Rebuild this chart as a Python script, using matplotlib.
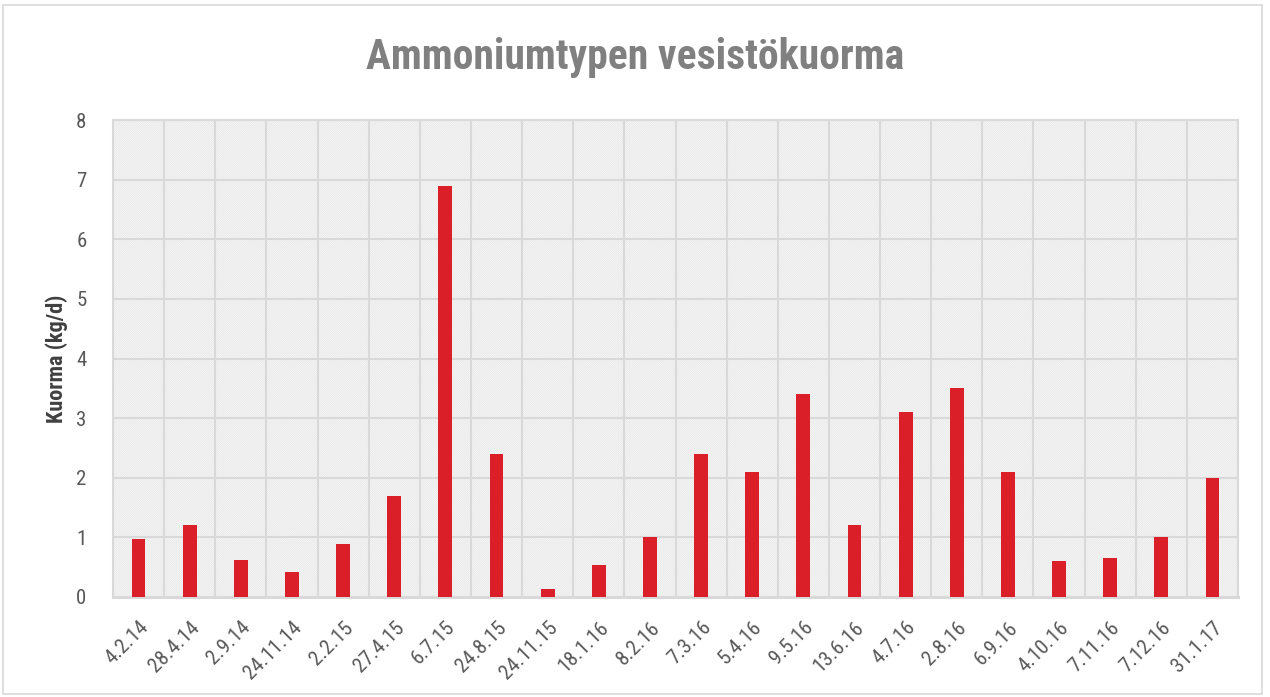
import matplotlib
matplotlib.use("Agg")
import matplotlib.pyplot as plt
from matplotlib.patches import Rectangle

dates = ["4.2.14", "28.4.14", "2.9.14", "24.11.14", "2.2.15", "27.4.15", "6.7.15",
         "24.8.15", "24.11.15", "18.1.16", "8.2.16", "7.3.16", "5.4.16", "9.5.16",
         "13.6.16", "4.7.16", "2.8.16", "6.9.16", "4.10.16", "7.11.16", "7.12.16", "31.1.17"]
kuorma = [0.98, 1.2, 0.62, 0.42, 0.89, 1.7, 6.9, 2.4, 0.13, 0.54, 1.0, 2.4, 2.1, 3.4,
          1.2, 3.1, 3.5, 2.1, 0.6, 0.65, 1.0, 2.0]
yticks = [0, 1, 2, 3, 4, 5, 6, 7, 8]

FONT = ["Roboto Condensed", "Liberation Sans", "DejaVu Sans"]
plt.rcParams["font.family"] = FONT
plt.rcParams["hatch.linewidth"] = 0.6
plt.rcParams["hatch.color"] = "#e6e6e6"

fig = plt.figure(figsize=(12.7, 6.97), dpi=100)
ax = fig.add_axes([113 / 1270, 1 - 597 / 697, 1125 / 1270, 477 / 697])

# outer chart border
fig.patches.append(Rectangle((3 / 1270, 3 / 697), 1259 / 1270, 689 / 697, transform=fig.transFigure,
                             fill=False, edgecolor="#d9d9d9", lw=1.2))

ax.add_patch(Rectangle((0, 0), 1, 1, transform=ax.transAxes, facecolor="white",
                       hatch="/" * 18, edgecolor="#e6e6e6", lw=0, zorder=0))

x = list(range(len(dates)))
ax.bar(x, kuorma, width=0.27, color="#DA1F28", zorder=3)

ax.set_xlim(-0.5, len(dates) - 0.5)
ax.set_ylim(0, 8)
ax.set_yticks(yticks)
ax.set_yticklabels([str(v) for v in yticks], fontsize=15, color="#595959")
ax.set_xticks(x)
ax.set_xticklabels(dates, rotation=45, ha="right", rotation_mode="anchor", fontsize=15, color="#595959")
ax.set_xticks([i + 0.5 for i in range(-1, len(dates))], minor=True)
ax.tick_params(axis="both", which="both", length=0)
ax.tick_params(axis="x", pad=15)
ax.tick_params(axis="y", pad=19)
ax.grid(True, axis="y", which="major", color="#d9d9d9", lw=1.5, zorder=1)
ax.grid(True, axis="x", which="minor", color="#d9d9d9", lw=1.5, zorder=1)
for s in ax.spines.values():
    s.set_color("#d9d9d9")
    s.set_linewidth(1.5)
ax.spines["bottom"].set_linewidth(2.2)

ax.set_ylabel("Kuorma (kg/d)", fontsize=16, fontweight="bold", color="#404040", labelpad=6)
fig.text(0.5, 1 - 57 / 697, "Ammoniumtypen vesistökuorma", ha="center", va="center",
         fontsize=30, fontweight="bold", color="#808080")

fig.savefig("out.png", dpi=100)
